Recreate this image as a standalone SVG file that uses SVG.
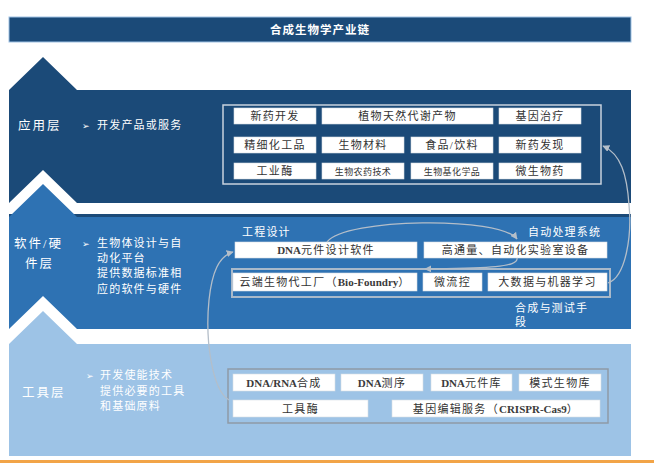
<svg xmlns="http://www.w3.org/2000/svg" width="654" height="463" viewBox="0 0 654 463">
<defs>
<style>
.box{fill:#ffffff;stroke:#d8dde4;stroke-width:0.6}
.bt{font-family:"Liberation Serif","Noto Sans CJK SC",serif;font-size:11px;fill:#333333;text-anchor:middle;letter-spacing:1.3px}
.lt{letter-spacing:0px;font-weight:bold;fill:#3a3a3a}
.sm{font-size:9px;letter-spacing:0.4px}
.wt{font-family:"Liberation Serif","Noto Sans CJK SC",serif;font-size:11px;fill:#ffffff;letter-spacing:1.2px}
.lay{font-family:"Liberation Serif","Noto Sans CJK SC",serif;font-size:12.5px;fill:#ffffff;letter-spacing:2px}
.bul{font-family:"DejaVu Sans",sans-serif;font-size:9px;fill:#ffffff}
.con{fill:none;stroke:#b4bec9;stroke-width:1.3}
</style>
<marker id="ah" viewBox="0 0 10 10" refX="9" refY="5" markerWidth="7" markerHeight="7" orient="auto" markerUnits="userSpaceOnUse">
<path d="M0,0 L10,5 L0,10 Z" fill="#b4bec9"/>
</marker>
</defs>
<rect width="654" height="463" fill="#ffffff"/>

<g id="title">
<rect x="9" y="17" width="622" height="25" fill="#1b4a78" stroke="#9fc2e4" stroke-width="1"/>
<text x="320" y="33.5" font-family="Liberation Serif,'Noto Sans CJK SC',serif" font-size="11.5" font-weight="bold" fill="#ffffff" text-anchor="middle" letter-spacing="1">合成生物学产业链</text>
</g>

<g id="layers">
<path d="M9,90 L43,57 L77,90 L631,90 L631,217 L9,217 Z" fill="#1b4a78"/>
<path d="M9,203 L43,170 L77,203 L640,203 L640,214 L9,214 Z" fill="#ffffff"/>
<path d="M9,217 L43,184 L77,217 L631,217 L631,329 L9,329 Z" fill="#2e72b3"/>
<path d="M9,329 L43,296 L77,329 L640,329 L640,340 L9,340 Z" fill="#ffffff"/>
<path d="M9,344 L43,311 L77,344 L631,344 L631,456 L9,456 Z" fill="#9dc3e6"/>
<rect x="0" y="460" width="654" height="3" fill="#f2a447"/>
</g>

<g id="app-layer">
<text class="lay" x="18" y="130">应用层</text>
<text class="bul" x="82" y="129">➢</text>
<text class="wt" x="97" y="129">开发产品或服务</text>
<rect x="223" y="105" width="378" height="79" fill="none" stroke="#c9d2dd" stroke-width="1.5"/>
</g>
<g id="app-n1"><rect class="box" x="234" y="108" width="82" height="16"/><text class="bt" x="275" y="120">新药开发</text></g>
<g id="app-n2"><rect class="box" x="322" y="108" width="171" height="16"/><text class="bt" x="407.5" y="120">植物天然代谢产物</text></g>
<g id="app-n3"><rect class="box" x="499" y="108" width="82" height="16"/><text class="bt" x="540" y="120">基因治疗</text></g>
<g id="app-n4"><rect class="box" x="234" y="137" width="82" height="16"/><text class="bt" x="275" y="149">精细化工品</text></g>
<g id="app-n5"><rect class="box" x="322" y="137" width="82" height="16"/><text class="bt" x="363" y="149">生物材料</text></g>
<g id="app-n6"><rect class="box" x="411" y="137" width="82" height="16"/><text class="bt" x="452" y="149">食品/饮料</text></g>
<g id="app-n7"><rect class="box" x="499" y="137" width="82" height="16"/><text class="bt" x="540" y="149">新药发现</text></g>
<g id="app-n8"><rect class="box" x="234" y="163" width="82" height="16"/><text class="bt" x="275" y="175">工业酶</text></g>
<g id="app-n9"><rect class="box" x="322" y="163" width="82" height="16"/><text class="bt sm" x="363" y="174.5">生物农药技术</text></g>
<g id="app-n10"><rect class="box" x="411" y="163" width="82" height="16"/><text class="bt sm" x="452" y="174.5">生物基化学品</text></g>
<g id="app-n11"><rect class="box" x="499" y="163" width="82" height="16"/><text class="bt" x="540" y="175">微生物药</text></g>

<g id="sw-layer">
<text class="lay" x="14" y="248">软件/硬</text>
<text class="lay" x="25" y="268">件层</text>
<text class="bul" x="82" y="247">➢</text>
<text class="wt" x="97" y="247">生物体设计与自</text>
<text class="wt" x="97" y="262">动化平台</text>
<text class="wt" x="97" y="277">提供数据标准相</text>
<text class="wt" x="97" y="293">应的软件与硬件</text>
<text class="wt" x="242" y="236">工程设计</text>
<text class="wt" x="528" y="236">自动处理系统</text>
<text class="wt" x="515" y="312">合成与测试手</text>
<text class="wt" x="515" y="326">段</text>
<rect x="232" y="269" width="378" height="28" fill="none" stroke="#a9b9ca" stroke-width="2"/>
</g>
<g id="sw-n1"><rect class="box" x="235" y="242" width="182" height="16"/><text class="bt" x="326" y="254"><tspan class="lt">DNA</tspan>元件设计软件</text></g>
<g id="sw-n2"><rect class="box" x="424" y="242" width="183" height="16"/><text class="bt" x="515.5" y="254">高通量、自动化实验室设备</text></g>
<g id="sw-n3"><rect class="box" x="233" y="273" width="184" height="18" /><text class="bt" x="325" y="286" letter-spacing="0.8">云端生物代工厂（<tspan class="lt">Bio-Foundry</tspan>）</text></g>
<g id="sw-n4"><rect class="box" x="423" y="273" width="59" height="18"/><text class="bt" x="452.5" y="286">微流控</text></g>
<g id="sw-n5"><rect class="box" x="488" y="273" width="119" height="18"/><text class="bt" x="547.5" y="286">大数据与机器学习</text></g>

<g id="tool-layer">
<text class="lay" x="22" y="397">工具层</text>
<text class="bul" x="86" y="379">➢</text>
<text class="wt" x="100" y="379">开发使能技术</text>
<text class="wt" x="100" y="395">提供必要的工具</text>
<text class="wt" x="100" y="410">和基础原料</text>
<rect x="228" y="369" width="380" height="54" fill="none" stroke="#8f9aa6" stroke-width="1.5"/>
</g>
<g id="tool-n1"><rect class="box" x="233" y="374" width="102" height="17"/><text class="bt" x="284" y="386.5" letter-spacing="0.6"><tspan class="lt">DNA/RNA</tspan>合成</text></g>
<g id="tool-n2"><rect class="box" x="341" y="374" width="82" height="17"/><text class="bt" x="382" y="386.5" letter-spacing="0.6"><tspan class="lt">DNA</tspan>测序</text></g>
<g id="tool-n3"><rect class="box" x="431" y="374" width="81" height="17"/><text class="bt" x="471.5" y="386.5" letter-spacing="0.6"><tspan class="lt">DNA</tspan>元件库</text></g>
<g id="tool-n4"><rect class="box" x="519" y="374" width="82" height="17"/><text class="bt" x="560" y="386.5">模式生物库</text></g>
<g id="tool-n5"><rect class="box" x="233" y="400" width="135" height="17"/><text class="bt" x="300.5" y="412.5">工具酶</text></g>
<g id="tool-n6"><rect class="box" x="392" y="400" width="208" height="17"/><text class="bt" x="496" y="412.5" letter-spacing="0.8">基因编辑服务（<tspan class="lt">CRISPR-Cas9</tspan>）</text></g>

<g id="connectors">
<path class="con" d="M327,242 C345,218 500,216 517,239" marker-end="url(#ah)"/>
<path class="con" d="M517,258 C519,268 480,268 425,269" marker-end="url(#ah)"/>
<path class="con" d="M229,400 C212,390 205,340 209,300 C212,272 219,256 233,252" marker-end="url(#ah)"/>
<path class="con" d="M608,283 C626,277 632,235 629,205 C627,175 621,154 603,146" marker-end="url(#ah)"/>
</g>
</svg>
